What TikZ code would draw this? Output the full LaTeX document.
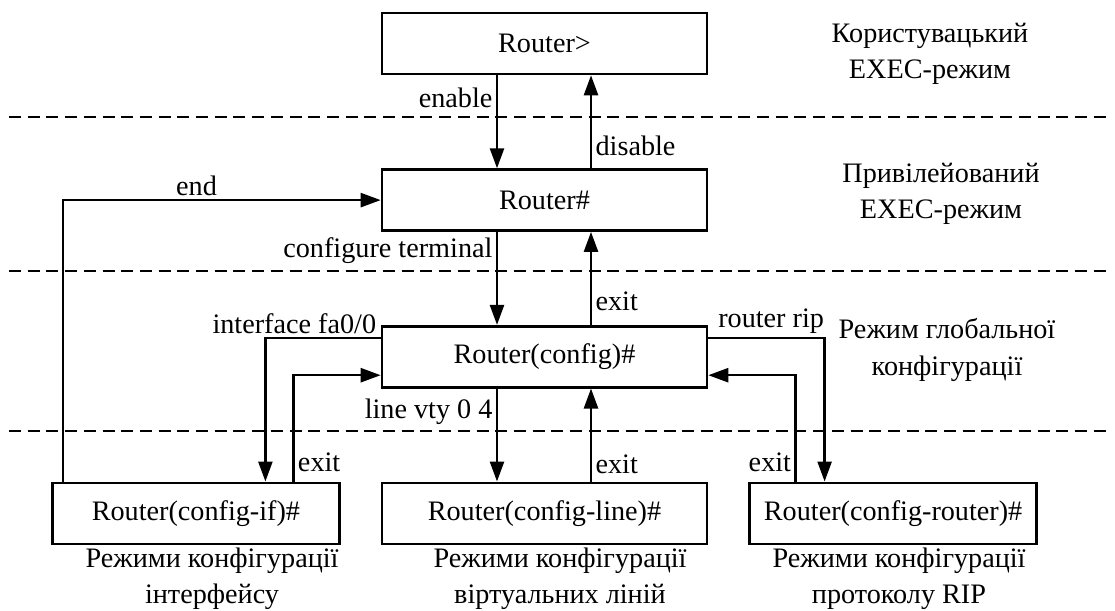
\documentclass[tikz,border=0pt]{standalone}
\usepackage{fontspec}
\setmainfont{Liberation Serif}
\usetikzlibrary{arrows.meta,positioning}

\begin{document}
\begin{tikzpicture}[
      x=1pt, y=-1pt,
      node distance=93pt and 40pt,
      every node/.style={font=\fontsize{28.2}{36.5}\selectfont},
      mode/.style={draw, line width=2.6pt, minimum width=325pt, minimum height=61pt, inner sep=0pt},
      submode/.style={mode, minimum width=287pt},
      caption/.style={align=center},
      arrow/.style={-{Triangle[length=20pt, width=14pt]}, line width=2.5pt},
      separator/.style={line width=1.6pt, dash pattern=on 12pt off 6.7pt}
  ]
    \useasboundingbox (0,0) rectangle (1115,610);
    % levels
    \foreach \y in {117, 271, 431}
      \draw[separator] (9,\y) -- (1110,\y);
    % modes
    \node[mode] (usr) at (544.5,43.5) {Router>};
    \node[mode, below=of usr] (priv) {Router\#};
    \node[mode, below=of priv] (cfg) {Router(config)\#};
    \node[mode, below=of cfg] (cline) {Router(config-line)\#};
    \node[submode, left=of cline] (cif) {Router(config-if)\#};
    \node[submode, right=of cline] (crt) {Router(config-router)\#};
    % level names
    \node[caption] (usrtxt) at (930,54) {Користувацький\\EXEC-режим};
    \node[caption] (privtxt) at (941,194) {Привілейований\\EXEC-режим};
    \node[caption] (cfgtxt) at (947,350) {Режим глобальної\\конфігурації};
    \node[caption] (ciftxt) at (212,579) {Режими конфігурації\\інтерфейсу};
    \node[caption] (clinetxt) at (560,579) {Режими конфігурації\\віртуальних ліній};
    \node[caption] (crttxt) at (899,579) {Режими конфігурації\\протоколу RIP};
    % transitions
    \draw[arrow] ([xshift=-47.5pt]usr.south) -- node[pos=0.24, left] {enable} ([xshift=-47.5pt]priv.north);
    \draw[arrow] ([xshift=46.5pt]priv.north) -- node[pos=0.24, right] {disable} ([xshift=46.5pt]usr.south);
    \draw[arrow] ([xshift=-47.5pt]priv.south) -- node[pos=0.2, left] {configure terminal} ([xshift=-47.5pt]cfg.north);
    \draw[arrow] ([xshift=46.5pt]cfg.north) -- node[pos=0.25, right] {exit} ([xshift=46.5pt]priv.south);
    \draw[arrow] ([xshift=-47.5pt]cfg.south) -- node[pos=0.25, left] {line vty 0 4} ([xshift=-47.5pt]cline.north);
    \draw[arrow] ([xshift=46.5pt]cline.north) -- node[pos=0.19, right] {exit} ([xshift=46.5pt]cfg.south);
    \draw[arrow] ([xshift=12pt]cif.north west) |- node[pos=0.71, above] {end} (priv.west);
    \draw[arrow] ([yshift=18.5pt]cfg.west) -| node[pos=0, above left] {interface fa0/0} ([xshift=69.5pt]cif.north);
    \draw[arrow] ([xshift=97.5pt]cif.north) |- node[pos=0.09, right] {exit} ([yshift=-18.5pt]cfg.west);
    \draw[arrow] ([yshift=18.5pt]cfg.east) -| node[pos=0.27, above, inner sep=3pt] {router rip} ([xshift=-68.5pt]crt.north);
    \draw[arrow] ([xshift=-97.5pt]crt.north) |- node[pos=0.09, left] {exit} ([yshift=-18.5pt]cfg.east);
  \end{tikzpicture}
\end{document}
